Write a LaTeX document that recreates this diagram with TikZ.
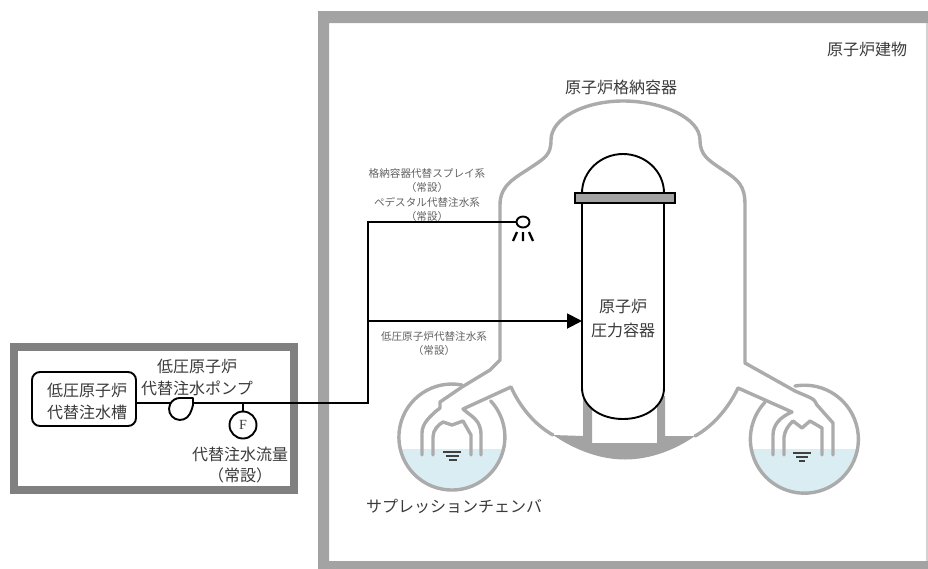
\documentclass[tikz,border=0pt]{standalone}
\usepackage{fontspec}
\setmainfont{Noto Sans CJK JP}
\newfontfamily\latinser{Liberation Serif}
\usetikzlibrary{arrows.meta,shapes.geometric}
\definecolor{wallgray}{HTML}{A3A3A3}
\definecolor{boxgray}{HTML}{808080}
\definecolor{pcvgray}{HTML}{ABABAB}
\definecolor{waterblue}{HTML}{DAEDF3}
\definecolor{txtgray}{HTML}{3A3A3A}
\tikzset{
  pcv/.style={draw=pcvgray,line width=3.4pt,line join=round,line cap=round},
  pipe/.style={draw=black,line width=1.9pt},
  lab/.style={text=txtgray,inner sep=0pt,font=\fontsize{16}{16}\selectfont},
  sml/.style={text=txtgray!80,inner sep=0pt,font=\fontsize{10.6}{10.6}\selectfont},
  wl/.style={draw=black!75,line width=1.3pt}
}
\begin{document}
\begin{tikzpicture}[x=1pt,y=-1pt]
\useasboundingbox (0,0) rectangle (928,568);
% building and outdoor frame
\fill[wallgray,even odd rule] (318,11) rectangle (940,575) (329,23) rectangle (926,561);
\fill[wallgray!50] (926,23) rectangle (928,561);
\fill[white] (928,0) rectangle (940,568);
\draw[boxgray,line width=8pt] (14,346.5) rectangle (294,489.5);
% water
\begin{scope}\clip (380,449) rectangle (520,500);\fill[waterblue] (452,436) circle[radius=53];\end{scope}
\begin{scope}\clip (740,449) rectangle (870,500);\fill[waterblue] (804,439) circle[radius=54];\end{scope}
% lower head and pedestal
\fill[wallgray] (553,435) .. controls (575,450) and (600,459.5) .. (625,459.5) .. controls (650,459.5) and (675,450) .. (695,436) -- (665,436) -- (665,396) -- (657,396) -- (657,443) -- (592,443) -- (592,396) -- (583,396) -- (583,436) -- cycle;
% containment
\draw[pcv] (422,455) -- (422,433) .. controls (422,423) and (431,416) .. (435,412) -- (440,408) -- (440,402) -- (462,387) -- (490,370) -- (500,360) -- (500,205) .. controls (500,185) and (515,178) .. (530,168) .. controls (545,158) and (551,155) .. (551,140) .. controls (551,118) and (585,101) .. (623,101) .. controls (662,101) and (700,118) .. (700,140) .. controls (700,155) and (708,160) .. (723,170) .. controls (738,180) and (745,185) .. (745,205) -- (745,363) -- (795,391) .. controls (808,397) and (815,398) .. (817,405) -- (833,423) -- (833,455);
\draw[pcv] (481,455) -- (481,435) .. controls (481,420) and (472,417) .. (463,409) -- (511,387) .. controls (520,407) and (535,425) .. (553,435);
\draw[pcv] (695,436) .. controls (715,425) and (730,405) .. (738,388) -- (792,412) .. controls (780,417) and (773,425) .. (773,435) -- (773,455);
% wet wells
\draw[pcv] (462,385) arc[start angle=-79,end angle=-403,radius=53];
\draw[pcv] (795,386) arc[start angle=-100,end angle=223,radius=54];
% vent pipes
\draw[pcv] (433,455) -- (433,437) .. controls (433,430) and (438,425) .. (443,422) -- (452,425) -- (463,421) -- (471,435) -- (471,455);
\draw[pcv] (784,455) -- (784,437) .. controls (785,430) and (788,426) .. (793,421) -- (802,428) -- (810,421) -- (822,428) -- (822,455);
% water level marks
\draw[wl] (443,452) -- (461,452) (446,456) -- (459,456) (449,460) -- (457,460);
\draw[wl] (793,453) -- (811,453) (796,457) -- (808,457) (799,461) -- (805,461);
% vessel
\draw[pipe,fill=white] (582,198) -- (582,388) .. controls (582,406) and (600,419) .. (623,419) .. controls (646,419) and (664,406) .. (664,388) -- (664,198) -- cycle;
\draw[pipe] (582,193) .. controls (582,171.5) and (600.5,154) .. (623,154) .. controls (645.5,154) and (664,171.5) .. (664,193);
\node[draw=black,line width=1.4pt,fill=wallgray,minimum width=100pt,minimum height=10pt,inner sep=0pt] (flange) at (625,198) {};
\node[lab,align=center,text width=80pt] (rpvlab) at (623,319) {原子炉\\[8pt]圧力容器};
% equipment
\node[draw=black,line width=1.9pt,rounded corners=8pt,minimum width=104pt,minimum height=54pt,inner sep=0pt] (tank) at (84,399) {};
\node[lab,align=center] (tanklab) at (87,401) {低圧原子炉\\[6pt]代替注水槽};
\node[circle,minimum size=22pt,inner sep=0pt] (pump) at (180,409) {};
\node[circle,draw=black,line width=1.9pt,minimum size=27pt,inner sep=0pt,font=\latinser\fontsize{14}{14}\selectfont,text=txtgray] (fm) at (243,425) {F};
\node[ellipse,draw=black,line width=1.9pt,minimum width=13pt,minimum height=11pt,inner sep=0pt] (spray) at (523,222) {};
% pump casing
\draw[pipe,line join=round] (190,413.6) arc[start angle=25,end angle=270,radius=11] -- (193,398) -- (193,405) .. controls (193,408) and (191,410) .. (190,413.6);
% spray legs
\draw[draw=black,line width=2.3pt] (517,232) -- (513,241) (523,232) -- (523,241) (529,232) -- (533,241);
% junctions
\coordinate (j0) at (368,403);
\coordinate (j1) at (368,321);
\coordinate (j2) at (368,222);
\coordinate (fmj) at (243,403);
\coordinate (rpvw) at (582,321);
\coordinate (pumpin) at (170.5,403);
\coordinate (pumpout) at (193,403);
\draw[pipe] (tank.east |- j0) -- (pumpin);
\draw[pipe] (pumpout) -- (j0) -- (j2) -- (spray.west);
\draw[pipe] (fmj) -- (fm.north);
\draw[pipe,-{Triangle[length=15pt,width=15pt]}] (j1) -- (rpvw);
% labels
\node[lab] (bld) at (867,49) {原子炉建物};
\node[lab] (pcvlab) at (621,87) {原子炉格納容器};
\node[lab,align=center] (pumplab) at (197,377) {低圧原子炉\\[6pt]代替注水ポンプ};
\node[lab,align=center] (fmlab) at (240,465.5) {代替注水流量\\[5pt]（常設）};
\node[lab] (sc) at (454,506) {サプレッションチェンバ};
\node[sml,align=center] (s1) at (427,195) {格納容器代替スプレイ系\\[3.5pt]（常設）\\[3.5pt]ペデスタル代替注水系\\[3.5pt]（常設）};
\node[sml,align=center] (s2) at (434,343.5) {低圧原子炉代替注水系\\[3pt]（常設）};
\end{tikzpicture}
\end{document}
